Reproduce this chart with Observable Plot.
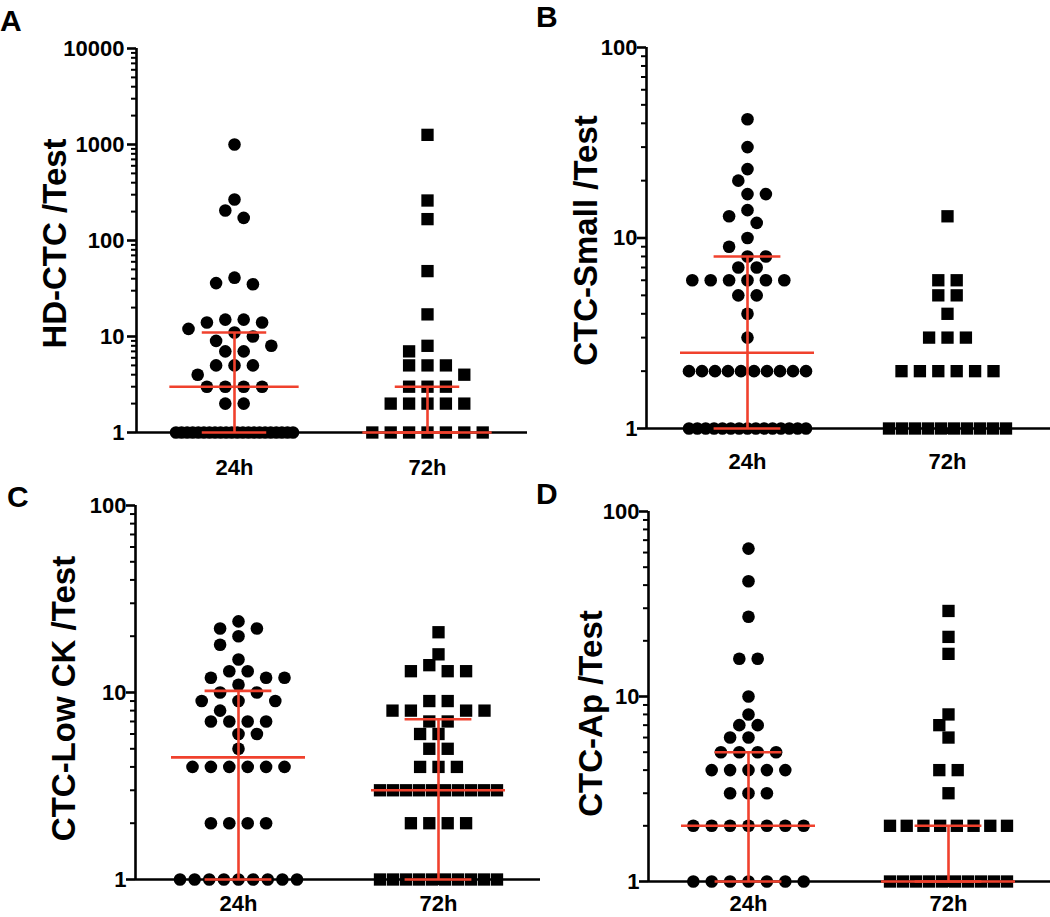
<!DOCTYPE html>
<html><head><meta charset="utf-8">
<script src="https://cdn.jsdelivr.net/npm/d3@7"></script>
<script src="https://cdn.jsdelivr.net/npm/@observablehq/plot@0.6"></script>
<style>
html,body{margin:0;padding:0;background:#fff;}
#fig{position:relative;width:1050px;height:917px;overflow:hidden;font-family:"Liberation Sans",Arial,sans-serif;}
.letter{position:absolute;font-weight:bold;font-size:30px;line-height:30px;color:#000;}
#fig svg{position:absolute;left:0;top:0;}
</style></head><body><div id="fig"></div>
<script>
// ---------- data ----------
const categories = ["24h", "72h"];
const ticksA = [1, 10, 100, 1000, 10000];
const ticksBCD = [1, 10, 100];

const hdctc24 = [1000, 267, 205, 172, 41, 36, 35, 15, 15, 14, 14, 12, 11, 10, 9, 8, 7, 7, 5, 5, 5, 4, 3, 3, 3, 3, 2, 2,
  1, 1, 1, 1, 1, 1, 1, 1, 1, 1, 1, 1, 1, 1, 1, 1, 1, 1, 1, 1, 1, 1];
const hdctc72 = [1260, 261, 167, 48, 17, 8, 7, 5, 5, 5, 4, 3, 3, 3, 2, 2, 2, 2, 2, 1, 1, 1, 1, 1, 1, 1];
const hdctcMedian = [3, 1];
const hdctcQ1 = [1, 1];
const hdctcQ3 = [11, 3];

const small24 = [42, 30, 23, 20, 17, 17, 14, 13, 12, 10, 9, 8, 8, 7, 7, 6, 6, 6, 6, 6, 6, 5, 5, 4, 3,
  2, 2, 2, 2, 2, 2, 2, 2, 2, 2, 1, 1, 1, 1, 1, 1, 1, 1, 1, 1, 1, 1, 1, 1, 1];
const small72 = [13, 6, 6, 5, 5, 4, 3, 3, 3, 2, 2, 2, 2, 2, 2, 1, 1, 1, 1, 1, 1, 1, 1, 1, 1];
const smallMedian = [2.5, null];
const smallQ1 = [1, null];
const smallQ3 = [8, null];

const lowck24 = [24, 22, 22, 20, 18, 15, 13, 13, 12, 12, 12, 11, 10, 10, 9, 9, 9, 8, 7, 7, 7, 7, 6, 6, 5,
  4, 4, 4, 4, 4, 4, 2, 2, 2, 2, 1, 1, 1, 1, 1, 1, 1, 1, 1];
const lowck72 = [21, 16, 14, 13, 13, 13, 9, 9, 8, 8, 8, 8, 7, 7, 6, 6, 5, 5, 4, 4, 4,
  3, 3, 3, 3, 3, 3, 3, 3, 3, 3, 2, 2, 2, 2, 1, 1, 1, 1, 1, 1, 1, 1, 1, 1];
const lowckMedian = [4.5, 3];
const lowckQ1 = [1, 1];
const lowckQ3 = [10.2, 7.2];

const ap24 = [63, 42, 27, 16, 16, 10, 8, 7, 7, 6, 6, 5, 5, 5, 5, 4, 4, 4, 4, 4, 3, 3, 3,
  2, 2, 2, 2, 2, 2, 2, 1, 1, 1, 1, 1, 1, 1];
const ap72 = [29, 21, 17, 8, 7, 6, 4, 4, 3, 2, 2, 2, 2, 2, 2, 2, 2, 1, 1, 1, 1, 1, 1, 1, 1, 1, 1];
const apMedian = [2, 1];
const apQ1 = [1, 1];
const apQ3 = [5, 2];

// ---------- layout ----------
const RED = "#f0412d";
const FONT = "'Liberation Sans', Arial, Helvetica, sans-serif";

// GraphPad-like horizontal spreading of points (pixel offsets)
function swarm(values, pxDec) {
  const D = 13.6, S = 18.4, H = S / 2, WMAX = 117;
  const groups = d3.groups(values.map((v, i) => ({v, i})), d => d.v).sort((a, b) => b[0] - a[0]);
  const placed = [];
  const out = new Array(values.length).fill(0);
  let side = -1;
  for (const [v, items] of groups) {
    const y = -Math.log10(v) * pxDec;
    const n = items.length;
    const collide = x => placed.some(p => (p.x - x) ** 2 + (p.y - y) ** 2 < D * D);
    if ((n - 1) * S > WMAX) {
      const s = WMAX / (n - 1);
      items.forEach((d, j) => { const x = (j - (n - 1) / 2) * s; out[d.i] = x; placed.push({x, y}); });
      continue;
    }
    const sym = items.map((d, j) => (j - (n - 1) / 2) * S);
    if (sym.every(x => !collide(x))) {
      items.forEach((d, j) => { out[d.i] = sym[j]; placed.push({x: sym[j], y}); });
      continue;
    }
    for (const d of items) {
      for (let k = 0; k < 40; k++) {
        const cands = k === 0 ? [0] : [side * k * H, -side * k * H];
        const x = cands.find(c => !collide(c));
        if (x !== undefined) {
          out[d.i] = x; placed.push({x, y});
          if (k > 0) side = -side;
          break;
        }
      }
    }
  }
  return out;
}

const panels = [
  {letter: "A", lx: 0, ly: 6, left: 136, top: 48, bottom: 432, cat0: 234, cat1: 427, right: 527,
   yTicks: ticksA, tickPad: 3, gap: 27, title: "HD-CTC /Test", tdx: -80.6, tdy: 3,
   series: [hdctc24, hdctc72], median: hdctcMedian, q1: hdctcQ1, q3: hdctcQ3},
  {letter: "B", lx: 536, ly: 2, left: 646, top: 47, bottom: 428, cat0: 747, cat1: 947, right: 1050,
   yTicks: ticksBCD, tickPad: 0, gap: 25, title: "CTC-Small /Test", tdx: -59.6, tdy: 2.5,
   series: [small24, small72], median: smallMedian, q1: smallQ1, q3: smallQ3},
  {letter: "C", lx: 7, ly: 482, left: 135, top: 505, bottom: 879, cat0: 238, cat1: 438, right: 540,
   yTicks: ticksBCD, tickPad: 0, gap: 16, title: "CTC-Low CK /Test", tdx: -70.6, tdy: 6,
   series: [lowck24, lowck72], median: lowckMedian, q1: lowckQ1, q3: lowckQ3},
  {letter: "D", lx: 536, ly: 479, left: 648, top: 511, bottom: 881, cat0: 748, cat1: 948, right: 1050,
   yTicks: ticksBCD, tickPad: 0, gap: 14, title: "CTC-Ap /Test", tdx: -56.6, tdy: 17,
   series: [ap24, ap72], median: apMedian, q1: apQ1, q3: apQ3}
];

const fig = document.getElementById("fig");

for (const cfg of panels) {
  const k = cfg.cat1 - cfg.cat0;
  const xlo = -(cfg.cat0 - cfg.left) / k, xhi = 1 + (cfg.right - cfg.cat1) / k;
  const ylo = cfg.yTicks[0], yhi = cfg.yTicks[cfg.yTicks.length - 1];
  const pxDec = (cfg.bottom - cfg.top) / Math.log10(yhi / ylo);
  const rows = [];
  cfg.series.forEach((vals, c) => {
    const offs = swarm(vals, pxDec);
    vals.forEach((v, i) => rows.push({cat: c, v, x: c + offs[i] / k}));
  });
  const stats = cfg.median.map((m, c) => m == null ? null : {cat: c, med: m, q1: cfg.q1[c], q3: cfg.q3[c]}).filter(Boolean);
  const minor = [];
  for (let d = ylo; d < yhi; d *= 10) for (let m = 2; m <= 9; m++) minor.push(d * m);

  const svg = Plot.plot({
    width: 1050, height: 917,
    marginLeft: cfg.left, marginRight: 1050 - cfg.right, marginTop: cfg.top, marginBottom: 917 - cfg.bottom,
    style: {background: "transparent", fontFamily: FONT, fontWeight: "bold", overflow: "visible", color: "black"},
    x: {domain: [xlo, xhi], label: null},
    y: {type: "log", domain: [ylo, yhi], label: null},
    marks: [
      Plot.axisY({ticks: minor, tickSize: 5, strokeWidth: 2, text: null, label: null}),
      Plot.axisY({ticks: cfg.yTicks, tickSize: 9, tickPadding: cfg.tickPad, tickFormat: d => String(d),
        fontSize: 22, fontWeight: "bold", strokeWidth: 2.6, label: null}),
      Plot.axisX({ticks: [0, 1], tickSize: 6, tickPadding: cfg.gap - 6, tickFormat: i => categories[i],
        fontSize: 22, fontWeight: "bold", strokeWidth: 2.6, label: null}),
      Plot.ruleX([xlo], {y1: ylo, y2: yhi, strokeWidth: 2.6, stroke: "black"}),
      Plot.ruleY([ylo], {x1: xlo, x2: xhi, strokeWidth: 2.6, stroke: "black"}),
      Plot.dot(rows.filter(d => d.cat === 0), {x: "x", y: "v", r: 6.3, fill: "black", symbol: "circle"}),
      Plot.dot(rows.filter(d => d.cat === 1), {x: "x", y: "v", r: 6.95, fill: "black", symbol: "square"}),
      Plot.ruleX(stats, {x: "cat", y1: "q1", y2: "q3", stroke: RED, strokeWidth: 2.6}),
      Plot.ruleY(stats, {y: "med", x1: d => d.cat - 0.335, x2: d => d.cat + 0.335, stroke: RED, strokeWidth: 2.6}),
      Plot.ruleY(stats, {y: "q1", x1: d => d.cat - 0.167, x2: d => d.cat + 0.167, stroke: RED, strokeWidth: 2.6}),
      Plot.ruleY(stats, {y: "q3", x1: d => d.cat - 0.167, x2: d => d.cat + 0.167, stroke: RED, strokeWidth: 2.6}),
      Plot.text([cfg.title], {frameAnchor: "left", text: d => d, rotate: -90, dx: cfg.tdx, dy: cfg.tdy,
        textAnchor: "middle", lineAnchor: "middle", fontSize: 33, fontWeight: "bold", fill: "black"})
    ]
  });
  fig.appendChild(svg);
  const L = document.createElement("div");
  L.className = "letter";
  L.style.left = cfg.lx + "px";
  L.style.top = cfg.ly + "px";
  L.textContent = cfg.letter;
  fig.appendChild(L);
}
</script>
</body></html>
